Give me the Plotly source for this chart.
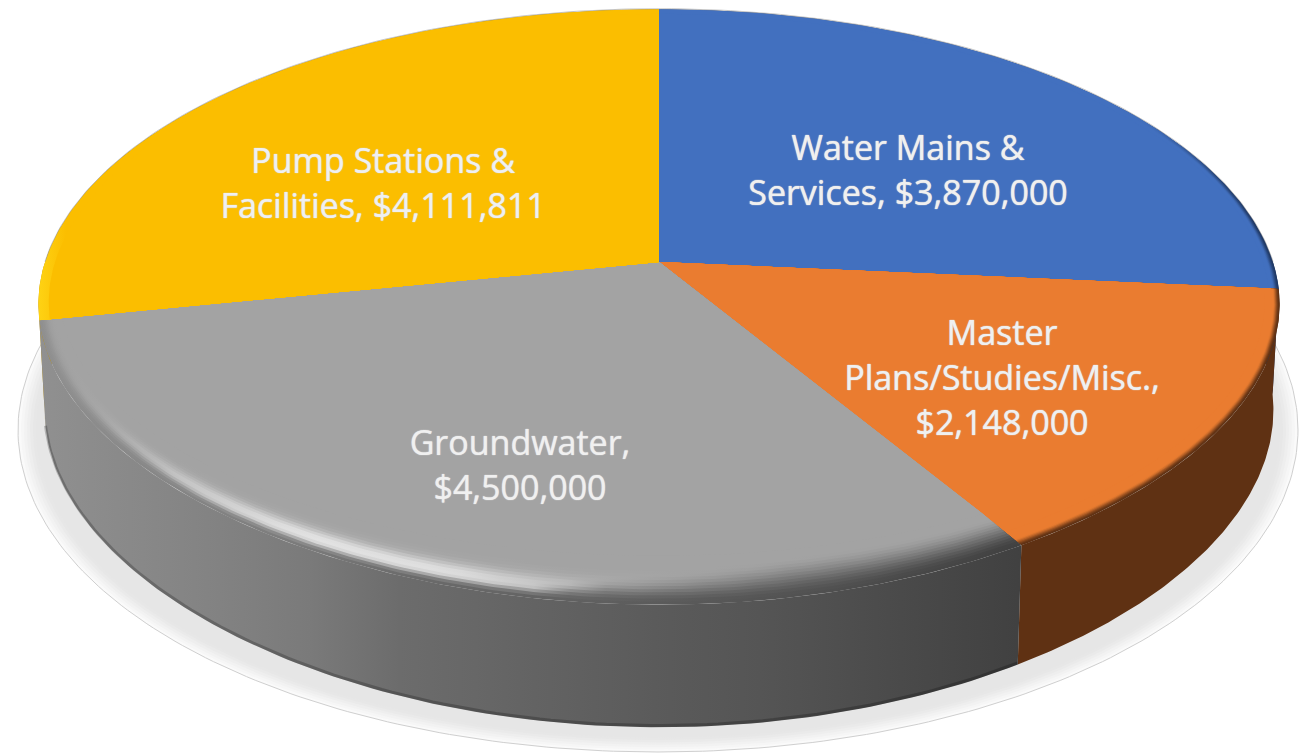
import numpy as np
import plotly.graph_objects as go

# chart data
categories = ["Water Mains & Services", "Master Plans/Studies/Misc.", "Groundwater", "Pump Stations & Facilities"]
values = [3870000, 2148000, 4500000, 4111811]
face_colors = ["#4270BF", "#EA7C30", "#A3A3A3", "#FBBE00"]
label_lines = [
    ["Water Mains &", "Services, $3,870,000"],
    ["Master", "Plans/Studies/Misc.,", "$2,148,000"],
    ["Groundwater,", "$4,500,000"],
    ["Pump Stations &", "Facilities, $4,111,811"],
]
label_centers = [(908, 151), (1002, 336), (520, 446), (383, 164)]

# pie geometry in pixels
CX, CY = 659, 262
A, B = 614, 291
K = 0.151
DEPTH = 104
N_RINGS = 16
LINE_GAP = 45
PAGE_MARGIN = 8  # the html body keeps its default margin


def hex_rgb(c):
    return np.array([int(c[i:i + 2], 16) for i in (1, 3, 5)], dtype=float)


def rgb(c):
    return "rgb(%d,%d,%d)" % tuple(np.clip(np.round(c), 0, 255))


def project(t, r=1.0, z=0.0, shrink=1.0):
    u, v = r * np.sin(t), -r * np.cos(t)
    w = 1 - K * v
    narrow = 1 - 0.037 * np.clip(v, 0, 1) ** 2
    return CX + A * shrink * narrow * u / w, CY + (B * v + z) / w


def grey_side(x):
    g = np.interp(x, [40, 300, 400, 800, 1022], [0x90, 0x7c, 0x6c, 0x52, 0x40])
    return np.array([g, g, g])


def smooth(p):
    p = np.clip(p, 0, 1)
    return p * p * (3 - 2 * p)


def grey_color(x, s):
    h = np.interp(x, [40, 120, 300, 450, 600, 800, 1022], [0.05, 0.2, 0.7, 0.65, 0.2, 0, 0])
    face = hex_rgb(face_colors[2])
    width = 0.2 + 0.6 * (1 - min(h * 2.5, 1))
    bright = face + (255 - face) * h * np.exp(-((s - 0.27) / 0.2) ** 2)
    return grey_side(x) + (bright - grey_side(x)) * smooth(s / width)


def orange_color(x, s):
    return hex_rgb("#5F3113") + (hex_rgb(face_colors[1]) - hex_rgb("#5F3113")) * smooth(s / 0.42)


def blue_color(x, s):
    dark = hex_rgb("#1F3864")
    fade = smooth((x - 1130) / 130)
    return hex_rgb(face_colors[0]) + (dark - hex_rgb(face_colors[0])) * fade * (1 - smooth(s / 0.6))


def yellow_color(x, s):
    glow = 1 - smooth((x - 40) / 22)
    return hex_rgb(face_colors[3]) + (hex_rgb("#FFD91A") - hex_rgb(face_colors[3])) * glow


ring_color = [blue_color, orange_color, grey_color, yellow_color]
ring_width = [(10, 6), (14, 14), (20, 36), (10, 6)]
side_colors = ["#1F3864", "#5F3113", None, "#BF9000"]

fractions = np.array(values) / sum(values)
edges = np.concatenate([[0], np.cumsum(fractions)]) * 2 * np.pi

fig = go.Figure()


def add_fill(xs, ys, **kw):
    fig.add_trace(go.Scatter(x=xs, y=ys, mode="lines", fill="toself", hoverinfo="skip",
                             showlegend=False, line=dict(width=0), **kw))


# soft shadow below the pie
t_all = np.linspace(0, 2 * np.pi, 361)
for i, grey in enumerate([250, 246, 242, 238, 234, 231, 230]):
    ax, by = 640 - i * 3, 322 - i * 2.4
    add_fill(658 + ax * np.sin(t_all), 430 + by * np.cos(t_all), fillcolor=rgb(np.array([grey] * 3)))
fig.add_trace(go.Scatter(x=658 + 640 * np.sin(t_all), y=430 + 322 * np.cos(t_all), mode="lines",
                         hoverinfo="skip", showlegend=False, line=dict(color="#CFCFCF", width=1)))

# side walls, back slices first
for i in [3, 0, 1, 2]:
    t = np.linspace(edges[i], edges[i + 1], 120)
    x0, y0 = project(t)
    x1, y1 = project(t[::-1], z=DEPTH, shrink=0.99)
    xs, ys = np.r_[x0, x1, x0[0]], np.r_[y0, y1, y0[0]]
    if side_colors[i] is None:
        stops = np.linspace(40, 1030, 12)
        add_fill(xs, ys, fillgradient=dict(type="horizontal", start=40, stop=1030,
                 colorscale=[[j / 11, rgb(grey_side(v))] for j, v in enumerate(stops)]))
    else:
        add_fill(xs, ys, fillcolor=side_colors[i])

# darker line along the foot of the grey wall
t = np.linspace(edges[2], edges[3], 120)
xf, yf = project(t, z=DEPTH - 1.5, shrink=0.99)
fig.add_trace(go.Scatter(x=xf, y=yf, mode="lines", hoverinfo="skip", showlegend=False,
                         line=dict(color="rgba(0,0,0,0.22)", width=3)))

# top faces, painted as shrinking rings so the bevel looks soft
for i in range(4):
    t = np.linspace(edges[i], edges[i + 1], 160)
    wx, wy = ring_width[i]
    for n in range(N_RINGS + 1):
        s = n / N_RINGS
        w = (wx / A) * np.sin(t) ** 2 + (wy / B) * np.cos(t) ** 2
        px, py = project(t, r=1 - s * w)
        xs, ys = np.r_[CX, px, CX], np.r_[CY, py, CY]
        if n == N_RINGS:
            add_fill(xs, ys, fillcolor=face_colors[i])
        else:
            stops = np.linspace(30, 1290, 36)
            add_fill(xs, ys, fillgradient=dict(type="horizontal", start=30, stop=1290,
                     colorscale=[[j / 35, rgb(ring_color[i](v, s))] for j, v in enumerate(stops)]))

# faint outline along the back of the disc
t = np.linspace(-np.pi * 0.5, np.pi * 0.5, 200)
xb, yb = project(t)
fig.add_trace(go.Scatter(x=xb, y=yb - 0.5, mode="lines", hoverinfo="skip", showlegend=False,
                         line=dict(color="rgba(150,150,150,0.55)", width=1)))

# data labels
text_x, text_y, text_s = [], [], []
for lines, (lx, ly) in zip(label_lines, label_centers):
    for j, line in enumerate(lines):
        text_x.append(lx)
        text_y.append(ly + j * LINE_GAP)
        text_s.append(line)
fig.add_trace(go.Scatter(x=text_x, y=text_y, text=text_s, mode="text", textposition="middle center",
                         hoverinfo="skip", showlegend=False,
                         textfont=dict(family="Open Sans", size=34, color="#F0F0F0",
                                       shadow="0 0 1px #d8d8d8, 0 0 1px #d8d8d8")))

fig.update_layout(
    width=1307 - PAGE_MARGIN,
    height=754 - PAGE_MARGIN,
    margin=dict(l=0, r=0, t=0, b=0),
    paper_bgcolor="white",
    plot_bgcolor="white",
    xaxis=dict(range=[PAGE_MARGIN, 1307], visible=False, fixedrange=True),
    yaxis=dict(range=[754, PAGE_MARGIN], visible=False, fixedrange=True),
    showlegend=False,
)

fig.write_html("out.html")
